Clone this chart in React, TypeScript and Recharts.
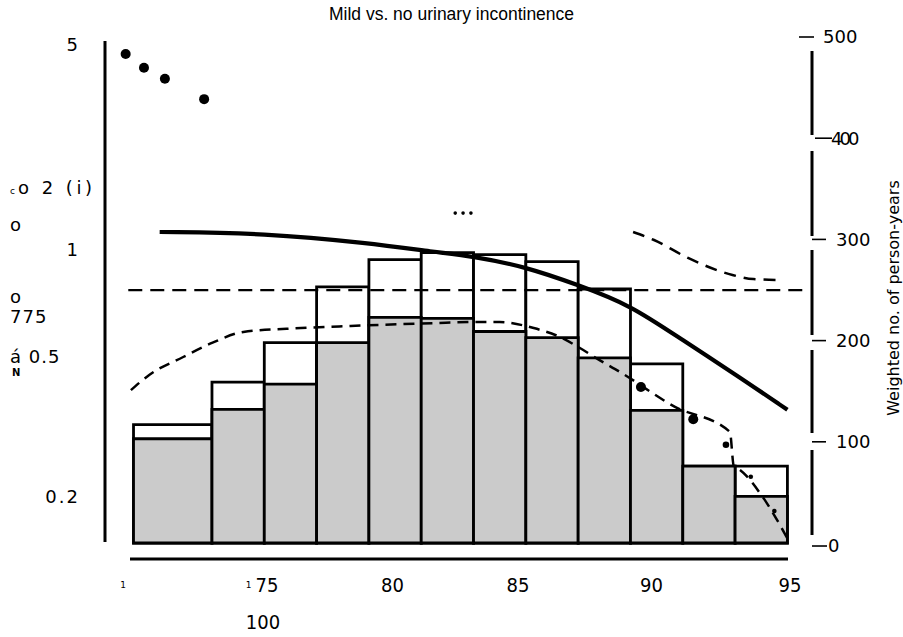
import React from 'react';
import { ComposedChart, XAxis, YAxis, Line, Scatter, ReferenceArea } from 'recharts';

// histogram bins (age), person-years on the right axis
const ageEdges = [70, 73, 75, 77, 79, 81, 83, 85, 87, 89, 91, 93, 95];
const totalPersonYears = [117, 159, 198, 253, 280, 287, 285, 278, 251, 177, 76, 76];
const subsetPersonYears = [103, 132, 157, 198, 223, 222, 209, 203, 183, 131, 76, 46];

// hazard ratio curve and confidence limits (left, log axis)
const fittedHr = [
  { age: 71, hr: 1.32 }, { age: 75, hr: 1.31 }, { age: 79, hr: 1.22 }, { age: 81.5, hr: 1.145 },
  { age: 83, hr: 1.11 }, { age: 85, hr: 1.03 }, { age: 87, hr: 0.905 }, { age: 89, hr: 0.785 },
  { age: 91, hr: 0.61 }, { age: 93, hr: 0.48 }, { age: 95, hr: 0.372 },
];
const upperCi = [
  { age: 89.1, hr: 1.32 }, { age: 89.9, hr: 1.247 }, { age: 91.2, hr: 1.097 },
  { age: 92.9, hr: 0.972 }, { age: 93.7, hr: 0.944 }, { age: 94.7, hr: 0.938 },
];
const lowerCi = [
  { age: 69.9, hr: 0.428 }, { age: 70.6, hr: 0.477 }, { age: 71.9, hr: 0.542 }, { age: 73.0, hr: 0.599 },
  { age: 74.2, hr: 0.648 }, { age: 76.4, hr: 0.666 }, { age: 78.3, hr: 0.676 }, { age: 81.5, hr: 0.69 },
  { age: 83.0, hr: 0.695 }, { age: 84.0, hr: 0.695 }, { age: 85.3, hr: 0.666 }, { age: 86.3, hr: 0.625 },
  { age: 87.0, hr: 0.582 }, { age: 87.8, hr: 0.531 }, { age: 88.6, hr: 0.487 }, { age: 90.7, hr: 0.38 },
  { age: 92.8, hr: 0.318 }, { age: 92.95, hr: 0.249 }, { age: 93.2, hr: 0.242 }, { age: 94.0, hr: 0.203 },
  { age: 95.0, hr: 0.149 },
];
const refLine = [{ age: 69.8, hr: 0.873 }, { age: 95.7, hr: 0.873 }];

// observed points
const bigDots = [
  { age: 69.7, hr: 4.69 }, { age: 70.4, hr: 4.25 }, { age: 71.2, hr: 3.93 }, { age: 72.7, hr: 3.4 },
  { age: 89.4, hr: 0.438 }, { age: 91.4, hr: 0.348 },
];
const midDots = [{ age: 92.65, hr: 0.29 }];
const smallDots = [{ age: 93.6, hr: 0.231 }, { age: 94.5, hr: 0.181 }];
const tinyDots = [{ age: 82.3, hr: 1.51 }, { age: 82.6, hr: 1.51 }, { age: 82.9, hr: 1.51 }];

// tick labels as printed
const xTickValues = [69.6, 74.4, 74.95, 75.1, 79.9, 84.7, 89.8, 95.1];
const xTickLabels = ['1', '1', '100', '75', '80', '85', '90', '95'];
const leftTickValues = [5, 1.806, 1.387, 1.161, 0.831, 0.72, 0.542, 0.487, 0.2];
const leftTickLabels = ['5', 'co 2 (i)', 'o', '1', 'o', '775', 'á 0.5', 'N', '0.2'];
const rightTickValues = [0, 100, 200, 300, 400, 500];

const FONT = '"DejaVu Sans", sans-serif';
const rightAligned = ['5', '1', '0.2'];

const AgeTick = (props: any) => {
  const { x, y, payload } = props;
  const label = xTickLabels[xTickValues.indexOf(payload.value)];
  if (label === '1') {
    return <text x={x} y={y + 29} textAnchor="middle" fontSize={9} fontFamily={FONT} fill="#000">{label}</text>;
  }
  const dy = label === '100' ? 70 : 33;
  return (
    <text x={x} y={y + dy} textAnchor="middle" fontSize={20}
      fontFamily={'"DejaVu Sans Condensed", "DejaVu Sans", sans-serif'} fill="#000">{label}</text>
  );
};

const HrTick = (props: any) => {
  const { y, payload } = props;
  const label = leftTickLabels[leftTickValues.indexOf(payload.value)];
  if (label === 'N') {
    return <text x={12} y={y} dy="0.35em" fontSize={10} fontWeight="bold" fontFamily={FONT} fill="#000">N</text>;
  }
  if (label.startsWith('c')) {
    return (
      <text x={10} y={y} dy="0.35em" fontSize={18} fontFamily={FONT} fill="#000" letterSpacing={3.5}>
        <tspan fontSize={9} letterSpacing={0}>c</tspan>
        <tspan dx={3}>{label.slice(1)}</tspan>
      </text>
    );
  }
  const right = rightAligned.includes(label);
  return (
    <text x={right ? 80 : 10} y={y} dy="0.35em" textAnchor={right ? 'end' : 'start'}
      fontSize={18} fontFamily={FONT} fill="#000" letterSpacing={right ? 2 : 1}>{label}</text>
  );
};

const PersonYearsTick = (props: any) => {
  const { x, y, payload } = props;
  const v = payload.value;
  if (v === 500) {
    return (
      <g>
        <line x1={x - 13} x2={x + 2} y1={y} y2={y} stroke="#000" strokeWidth={1.6} />
        <text x={x + 11} y={y} dy="0.36em" fontSize={18} fontFamily={FONT} fill="#000">500</text>
      </g>
    );
  }
  if (v === 400) {
    return (
      <g>
        <line x1={x + 3} x2={x + 20} y1={y} y2={y} stroke="#000" strokeWidth={1.6} />
        <text x={x + 19} y={y} dy="0.36em" fontSize={18} fontFamily={FONT} fill="#000" letterSpacing={-3}>400</text>
      </g>
    );
  }
  if (v === 0) {
    return (
      <g>
        <line x1={x} x2={x + 15} y1={y + 3} y2={y + 3} stroke="#000" strokeWidth={1.6} />
        <text x={x + 16} y={y + 3} dy="0.36em" fontSize={18} fontFamily={FONT} fill="#000">0</text>
      </g>
    );
  }
  return (
    <g>
      <line x1={x} x2={x + 14} y1={y} y2={y} stroke="#000" strokeWidth={1.6} />
      <text x={x + 24} y={y} dy="0.36em" fontSize={18} fontFamily={FONT} fill="#000">{v}</text>
    </g>
  );
};

const dot = (r: number) => (p: any) => <circle cx={p.cx} cy={p.cy} r={r} fill="#000" />;

export default function App() {
  return (
    <div style={{ position: 'absolute', left: 0, top: 0, width: 903, height: 637, background: '#fff' }}>
      <div style={{
        position: 'absolute', left: 0, top: 4, width: 903, textAlign: 'center',
        fontFamily: '"Liberation Sans", Arial, sans-serif', fontSize: 17.5, lineHeight: '20px', color: '#000',
      }}>
        Mild vs. no urinary incontinence
      </div>
      <ComposedChart width={903} height={637} margin={{ top: 37, right: 0, bottom: 8, left: 0 }}>
        <XAxis
          type="number" dataKey="age" domain={[68.91, 95.94]} allowDataOverflow
          ticks={xTickValues} interval={0} tick={<AgeTick />} tickLine={false} tickSize={0} tickMargin={0}
          height={70}
          axisLine={{ stroke: '#000', strokeWidth: 3, strokeDasharray: '0 25 658 100' }}
        />
        <YAxis
          yAxisId="hr" dataKey="hr" type="number" scale="log" domain={[0.1286, 5.293]} allowDataOverflow
          ticks={leftTickValues} interval={0} tick={<HrTick />} tickLine={false} width={105}
          axisLine={{ stroke: '#000', strokeWidth: 3, strokeDasharray: '0 4 501 100' }}
        />
        <YAxis
          yAxisId="py" orientation="right" type="number" domain={[-15.8, 500]} allowDataOverflow
          ticks={rightTickValues} interval={0} tick={<PersonYearsTick />} tickLine={false} tickSize={0} tickMargin={0}
          width={91}
          axisLine={{ stroke: '#000', strokeWidth: 3, strokeDasharray: '0 14 84 16 85 14 85 15 83 17 85 100' }}
          label={{ value: 'Weighted no. of person-years', angle: -90, position: 'center', dx: 36,
            fontSize: 16, fontFamily: FONT, fill: '#000' }}
        />
        {totalPersonYears.map((v, i) => (
          <ReferenceArea key={'t' + i} yAxisId="py" x1={ageEdges[i]} x2={ageEdges[i + 1]} y1={0} y2={v}
            fill="#fff" fillOpacity={1} stroke="#000" strokeWidth={2.8} ifOverflow="visible" />
        ))}
        {subsetPersonYears.map((v, i) => (
          <ReferenceArea key={'s' + i} yAxisId="py" x1={ageEdges[i]} x2={ageEdges[i + 1]} y1={0} y2={v}
            fill="#cbcbcb" fillOpacity={1} stroke="#000" strokeWidth={2.8} ifOverflow="visible" />
        ))}
        <Line data={refLine} yAxisId="hr" dataKey="hr" type="linear" stroke="#000" strokeWidth={2.2}
          strokeDasharray="14 8" dot={false} isAnimationActive={false} />
        <Line data={lowerCi} yAxisId="hr" dataKey="hr" type="monotone" stroke="#000" strokeWidth={2.5}
          strokeDasharray="11 7" dot={false} isAnimationActive={false} />
        <Line data={upperCi} yAxisId="hr" dataKey="hr" type="monotone" stroke="#000" strokeWidth={2.5}
          strokeDasharray="12 8" dot={false} isAnimationActive={false} />
        <Line data={fittedHr} yAxisId="hr" dataKey="hr" type="basis" stroke="#000" strokeWidth={4.2}
          dot={false} isAnimationActive={false} />
        <Scatter data={bigDots} yAxisId="hr" shape={dot(5)} isAnimationActive={false} />
        <Scatter data={midDots} yAxisId="hr" shape={dot(3.3)} isAnimationActive={false} />
        <Scatter data={smallDots} yAxisId="hr" shape={dot(2.3)} isAnimationActive={false} />
        <Scatter data={tinyDots} yAxisId="hr" shape={dot(1.8)} isAnimationActive={false} />
      </ComposedChart>
    </div>
  );
}
